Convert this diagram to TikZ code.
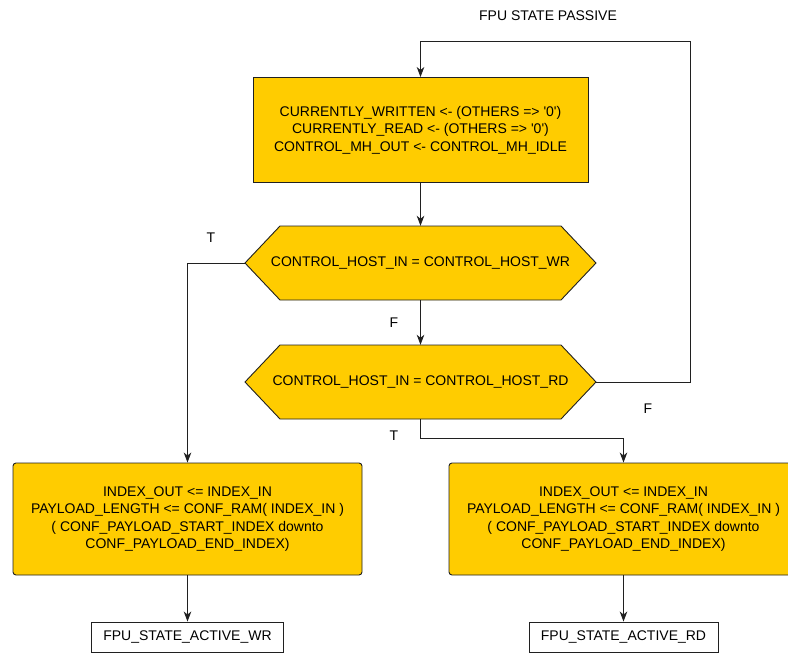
\documentclass[tikz,border=0pt]{standalone}
\usepackage{fontspec}
\setmainfont{Liberation Sans}
\usetikzlibrary{arrows.meta,calc}
\definecolor{boxfill}{HTML}{FFCC00}
\definecolor{edge}{HTML}{202020}

\begin{document}
\begin{tikzpicture}[x=1pt,y=-1pt,
  font=\fontsize{14}{17.4}\selectfont,
  every node/.style={inner sep=0pt},
  wire/.style={draw=edge,line width=0.9pt},
  arr/.style={wire,-{Stealth[length=10pt,width=7.5pt,inset=3pt]}},
  actionbox/.style={draw=edge,line width=0.9pt,fill=boxfill,align=center},
  hexfill/.style={draw=edge,line width=0.9pt,fill=boxfill,line join=miter},
  statebox/.style={draw=edge,line width=0.9pt,fill=white,minimum height=30pt,align=center},
  tag/.style={}]
\useasboundingbox (0,0) rectangle (788,653);

% title of the state
\node[tag] (title) at (548,16) {FPU STATE PASSIVE};

% initial assignments
\node[actionbox,minimum width=335pt,minimum height=105pt] (init) at (420.5,130)
  {CURRENTLY\_WRITTEN <- (OTHERS => \textquotesingle0\textquotesingle)\\
   CURRENTLY\_READ <- (OTHERS => \textquotesingle0\textquotesingle)\\
   CONTROL\_MH\_OUT <- CONTROL\_MH\_IDLE};

% first decision: write request
\coordinate (h1w) at (245,263);
\coordinate (h1e) at (596,263);
\draw[hexfill] (280,226) -- (561,226) -- (h1e) -- (561,300) -- (280,300) -- (h1w) -- cycle;
\node[minimum width=281pt,minimum height=74pt] (h1) at (420.5,263)
  {CONTROL\_HOST\_IN = CONTROL\_HOST\_WR};

% second decision: read request
\coordinate (h2w) at (245,382);
\coordinate (h2e) at (596,382);
\draw[hexfill] (280,345) -- (561,345) -- (h2e) -- (561,419) -- (280,419) -- (h2w) -- cycle;
\node[minimum width=281pt,minimum height=74pt] (h2) at (420.5,382)
  {CONTROL\_HOST\_IN = CONTROL\_HOST\_RD};

% write branch actions
\node[actionbox,rounded corners=3pt,minimum width=349pt,minimum height=112pt] (lbox) at (187.5,519)
  {INDEX\_OUT <= INDEX\_IN\\
   PAYLOAD\_LENGTH <= CONF\_RAM( INDEX\_IN )\\
   ( CONF\_PAYLOAD\_START\_INDEX downto\\
   CONF\_PAYLOAD\_END\_INDEX)};

% read branch actions
\node[actionbox,rounded corners=3pt,minimum width=349pt,minimum height=112pt] (rbox) at (623.5,519)
  {INDEX\_OUT <= INDEX\_IN\\
   PAYLOAD\_LENGTH <= CONF\_RAM( INDEX\_IN )\\
   ( CONF\_PAYLOAD\_START\_INDEX downto\\
   CONF\_PAYLOAD\_END\_INDEX)};

% next states
\node[statebox,minimum width=192pt] (wr) at (187.5,637) {FPU\_STATE\_ACTIVE\_WR};
\node[statebox,minimum width=189pt] (rd) at (623.5,637) {FPU\_STATE\_ACTIVE\_RD};

% connectors
\coordinate (loop) at (690,41);
\draw[arr] (h2e) -| (loop) -| (init.north);
\draw[arr] (init.south) -- (h1.north);
\draw[arr] (h1.south) -- (h2.north);
\draw[arr] (h1w) -| (lbox.north);
\coordinate (rbend) at (420.5,438);
\draw[arr] (h2.south) -- (rbend) -| (rbox.north);
\draw[arr] (lbox.south) -- (wr.north);
\draw[arr] (rbox.south) -- (rd.north);

% branch labels
\node[tag] (t1) at (211,238) {T};
\node[tag] (f1) at (394,323) {F};
\node[tag] (f2) at (648,409) {F};
\node[tag] (t2) at (394,436) {T};
\end{tikzpicture}
\end{document}
